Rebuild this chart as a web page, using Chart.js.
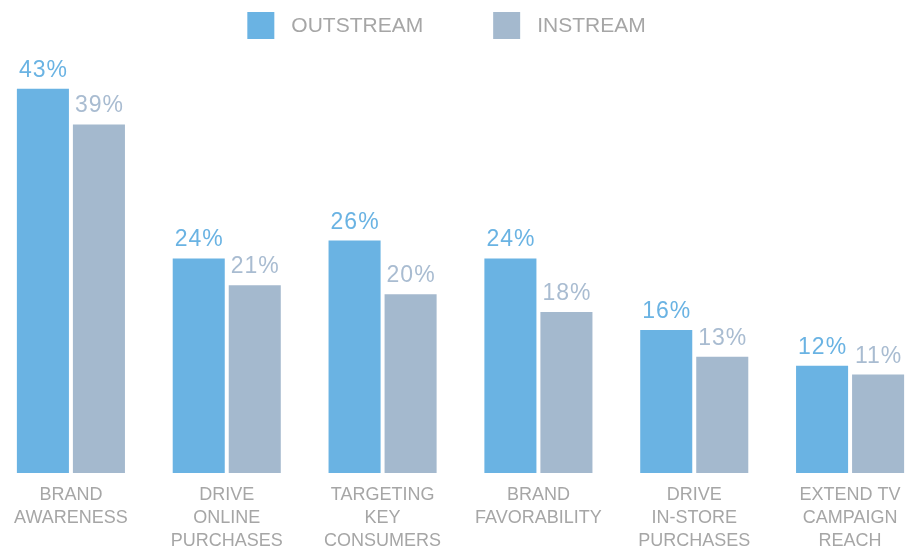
<!DOCTYPE html>
<html>
<head>
<meta charset="utf-8">
<script src="https://cdn.jsdelivr.net/npm/chart.js@4/dist/chart.umd.min.js"></script>
<style>
  html, body { margin: 0; padding: 0; background: #ffffff; overflow: hidden; }
  #wrap { position: relative; width: 935px; height: 564px; margin-left: -7px; }
</style>
</head>
<body>
<div id="wrap"><canvas id="chart"></canvas></div>
<script>
// Survey categories (multi-line axis labels)
const categories = [
  ['BRAND', 'AWARENESS'],
  ['DRIVE', 'ONLINE', 'PURCHASES'],
  ['TARGETING', 'KEY', 'CONSUMERS'],
  ['BRAND', 'FAVORABILITY'],
  ['DRIVE', 'IN-STORE', 'PURCHASES'],
  ['EXTEND TV', 'CAMPAIGN', 'REACH']
];
const seriesNames = ['OUTSTREAM', 'INSTREAM'];
const outstreamValues = [43, 24, 26, 24, 16, 12];
const instreamValues = [39, 21, 20, 18, 13, 11];

const barColors = ['#6ab3e3', '#a4b9ce'];
const labelColors = ['#6ab3e3', '#a9bcd1'];
const textGray = '#a6a6a6';
const fontFamily = '"Helvetica Neue", Helvetica, Arial, "Liberation Sans", sans-serif';

// Percent labels drawn above every bar
const valueLabels = {
  id: 'valueLabels',
  afterDatasetsDraw(chart) {
    const ctx = chart.ctx;
    ctx.save();
    ctx.font = '23px ' + fontFamily;
    ctx.letterSpacing = '1px';
    ctx.textAlign = 'center';
    ctx.textBaseline = 'alphabetic';
    chart.data.datasets.forEach((ds, i) => {
      const meta = chart.getDatasetMeta(i);
      ctx.fillStyle = labelColors[i];
      meta.data.forEach((bar, j) => {
        ctx.fillText(ds.data[j] + '%', bar.x + 0.5, bar.y - 12);
      });
    });
    ctx.restore();
  }
};

// Series key across the top: square swatch followed by the series name
const seriesKey = {
  id: 'seriesKey',
  afterDraw(chart) {
    const ctx = chart.ctx;
    const box = 27, textGap = 17, itemGap = 70, boxTop = 12;
    ctx.save();
    ctx.font = '21px ' + fontFamily;
    ctx.textBaseline = 'middle';
    ctx.textAlign = 'left';
    const items = chart.data.datasets.map((ds, i) => ({
      text: ds.label,
      color: barColors[i],
      width: ctx.measureText(ds.label).width
    }));
    const total = items.reduce((s, it) => s + box + textGap + it.width, 0) + itemGap * (items.length - 1);
    let x = chart.width / 2 - 14 - total / 2;
    items.forEach(it => {
      ctx.fillStyle = it.color;
      ctx.fillRect(x, boxTop, box, box);
      x += box + textGap;
      ctx.fillStyle = textGray;
      ctx.fillText(it.text, x, boxTop + box / 2 + 1);
      x += it.width + itemGap;
    });
    ctx.restore();
  }
};

new Chart(document.getElementById('chart'), {
  type: 'bar',
  data: {
    labels: categories,
    datasets: [
      { label: seriesNames[0], data: outstreamValues, backgroundColor: barColors[0] },
      { label: seriesNames[1], data: instreamValues, backgroundColor: barColors[1] }
    ]
  },
  options: {
    responsive: true,
    maintainAspectRatio: false,
    animation: false,
    datasets: { bar: { categoryPercentage: 0.719, barPercentage: 0.929 } },
    layout: { padding: { top: 44, bottom: 0, left: 0, right: 0 } },
    plugins: {
      tooltip: { enabled: false },
      legend: { display: false }
    },
    scales: {
      x: {
        grid: { display: false, drawTicks: false },
        border: { display: false },
        ticks: {
          color: textGray,
          padding: 11,
          maxRotation: 0,
          autoSkip: false,
          font: { family: fontFamily, size: 18, lineHeight: 1.28 }
        }
      },
      y: {
        display: false,
        min: 0,
        max: 48
      }
    }
  },
  plugins: [valueLabels, seriesKey]
});
</script>
</body>
</html>
